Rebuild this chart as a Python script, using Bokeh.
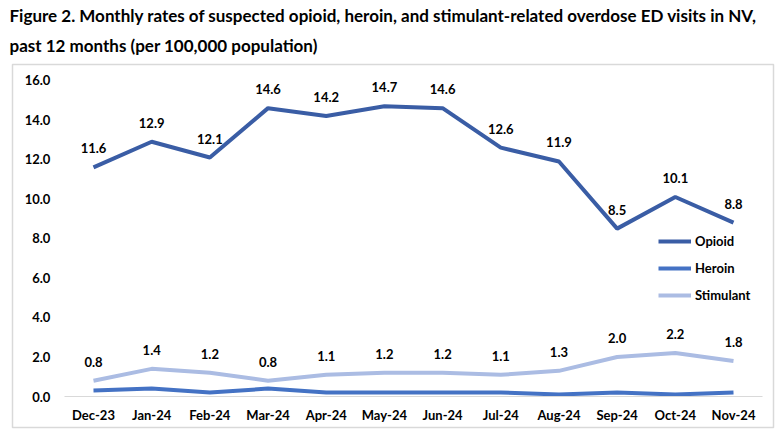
from bokeh.plotting import figure
from bokeh.models import Title, Range1d, NumeralTickFormatter, FixedTicker
from bokeh.core.properties import value
from bokeh.embed import file_html
from bokeh.resources import INLINE

months = ["Dec-23", "Jan-24", "Feb-24", "Mar-24", "Apr-24", "May-24",
          "Jun-24", "Jul-24", "Aug-24", "Sep-24", "Oct-24", "Nov-24"]
opioid = [11.6, 12.9, 12.1, 14.6, 14.2, 14.7, 14.6, 12.6, 11.9, 8.5, 10.1, 8.8]
heroin = [0.3, 0.4, 0.2, 0.4, 0.2, 0.2, 0.2, 0.2, 0.1, 0.2, 0.1, 0.2]
stimulant = [0.8, 1.4, 1.2, 0.8, 1.1, 1.2, 1.2, 1.1, 1.3, 2.0, 2.2, 1.8]
y_ticks = [0, 2, 4, 6, 8, 10, 12, 14, 16]
title_lines = ["Figure 2. Monthly rates of suspected opioid, heroin, and stimulant-related overdose ED visits in NV,",
               "past 12 months (per 100,000 population)"]

xs = list(range(len(months)))

FONT = "Lato"
C_OPI = "#3A5DA5"
C_HER = "#4472C4"
C_STI = "#ABBCE3"

p = figure(width=784, height=442,
           x_range=Range1d(-1.392, 11.6875), y_range=Range1d(-1.5696, 16.81),
           output_backend="svg", toolbar_location=None,
           min_border_left=12, min_border_right=11, min_border_top=64, min_border_bottom=15)
p.outline_line_color = "#D9D9D9"
p.outline_line_width = 1.5
p.xgrid.grid_line_color = None
p.ygrid.grid_line_color = None

p.yaxis.ticker = FixedTicker(ticks=y_ticks)
p.yaxis.formatter = NumeralTickFormatter(format="0.0")
p.yaxis.fixed_location = -0.5
p.yaxis.bounds = (0, 16)
p.yaxis.axis_line_color = None
p.yaxis.major_tick_line_color = None
p.yaxis.minor_tick_line_color = None
p.yaxis.major_label_standoff = 8

p.xaxis.ticker = FixedTicker(ticks=xs)
p.xaxis.major_label_overrides = {i: m for i, m in zip(xs, months)}
p.xaxis.fixed_location = 0
p.xaxis.bounds = (-0.5, len(months) - 0.5)
p.xaxis.axis_line_color = "#D9D9D9"
p.xaxis.major_tick_line_color = None
p.xaxis.minor_tick_line_color = None
p.xaxis.major_label_standoff = 4
for ax in (p.xaxis[0], p.yaxis[0]):
    ax.major_label_text_font = FONT
    ax.major_label_text_font_size = "13px"
    ax.major_label_text_font_style = "bold"
    ax.major_label_text_color = "#000000"

p.line(xs, opioid, line_color=C_OPI, line_width=4, legend_label="Opioid")
p.line(xs, heroin, line_color=C_HER, line_width=4, legend_label="Heroin")
p.line(xs, stimulant, line_color=C_STI, line_width=4, legend_label="Stimulant")

for vals in (opioid, stimulant):
    p.text(x=xs, y=vals, text=[f"{v:.1f}" for v in vals], y_offset=-19,
           text_align="center", text_baseline="middle", text_font=value(FONT),
           text_font_size="13px", text_font_style="bold", text_color="#000000")

lg = p.legend[0]
lg.location = (646, 122)
lg.padding = 0
lg.margin = 0
lg.border_line_color = None
lg.background_fill_alpha = 0
lg.glyph_width = 33
lg.glyph_height = 20
lg.label_height = 20
lg.label_standoff = 4
lg.spacing = 7
lg.label_text_font = FONT
lg.label_text_font_size = "13px"
lg.label_text_font_style = "bold"
lg.label_text_color = "#000000"

p.add_layout(Title(text=title_lines[1], align="left", offset=-3, standoff=18,
                   text_font=FONT, text_font_size="17px", text_font_style="bold",
                   text_color="#000000"), "above")
p.add_layout(Title(text=title_lines[0], align="left", offset=-3, standoff=-5,
                   text_font=FONT, text_font_size="17px", text_font_style="bold",
                   text_color="#000000"), "above")

open("out.html", "w").write(file_html(p, INLINE))
